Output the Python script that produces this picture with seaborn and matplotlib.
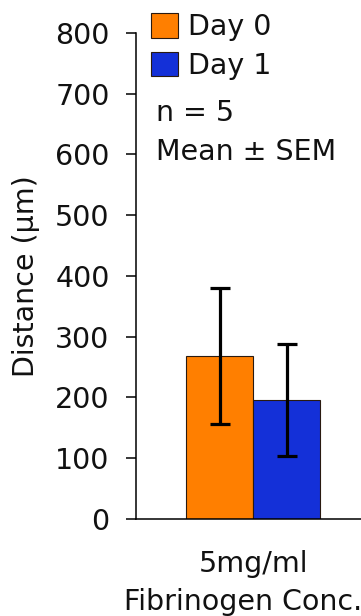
import seaborn as sns
import matplotlib.pyplot as plt
import matplotlib.patches as mpatches
import pandas as pd

# values
conc = ['5mg/ml', '5mg/ml']
day = ['Day 0', 'Day 1']
mean_dist = [268, 196]
sem_dist = [112, 92]
colors = ['#FF7F00', '#1430D8']

df = pd.DataFrame({'conc': conc, 'day': day, 'dist': mean_dist, 'sem': sem_dist})

sns.set_style('ticks')
plt.rcParams['font.family'] = ['DejaVu Sans']
plt.rcParams['text.color'] = '#111111'
fs = 20.5

fig = plt.figure(figsize=(3.61, 6.16), dpi=100)
ax = fig.add_axes([136 / 361, 0.1575, 234.5 / 361, 0.789])

sns.barplot(data=df, x='conc', y='dist', hue='day', palette=colors,
            saturation=1, errorbar=None, width=0.8, edgecolor='#2a1a10',
            linewidth=0.8, legend=False, ax=ax)

# SEM error bars on top of the bars
bars = sorted(ax.patches, key=lambda p: p.get_x())
for p, m, s in zip(bars, mean_dist, sem_dist):
    cx = p.get_x() + p.get_width() / 2
    ax.errorbar(cx, m, yerr=s, color='black', lw=2.3, capsize=7.5, capthick=2.3)

ax.set_xlim(-0.7, 0.7)
ax.set_ylim(0, 800)
ax.set_yticks(range(0, 900, 100))
ax.tick_params(axis='y', labelsize=fs, length=7, width=1.1, pad=12,
               colors='black', labelcolor='#111111')
ax.tick_params(axis='x', labelsize=fs, length=0, pad=22, labelcolor='#111111')
ax.set_ylabel('Distance (µm)', fontsize=fs, labelpad=11, color='#111111')
ax.set_xlabel('Fibrinogen Conc.', fontsize=fs, color='#111111')
ax.xaxis.set_label_coords(0.455, -0.141)
for side in ['top', 'right']:
    ax.spines[side].set_visible(False)
for side in ['left', 'bottom']:
    ax.spines[side].set_linewidth(1.1)
    ax.spines[side].set_color('black')

handles = [mpatches.Patch(facecolor=c, edgecolor='#2a1a10', linewidth=0.8, label=d)
           for c, d in zip(colors, day)]
fig.legend(handles=handles, loc='upper left', bbox_to_anchor=(151 / 361, 1 - 13 / 616),
           frameon=False, fontsize=fs, handlelength=0.95, handleheight=0.95,
           handletextpad=0.35, labelspacing=0.38, borderpad=0, borderaxespad=0)
fig.text(156 / 361, 1 - 121 / 616, 'n = 5', fontsize=fs, va='baseline')
fig.text(156 / 361, 1 - 160 / 616, 'Mean ± SEM', fontsize=fs, va='baseline')

fig.savefig('out.png', dpi=100)
